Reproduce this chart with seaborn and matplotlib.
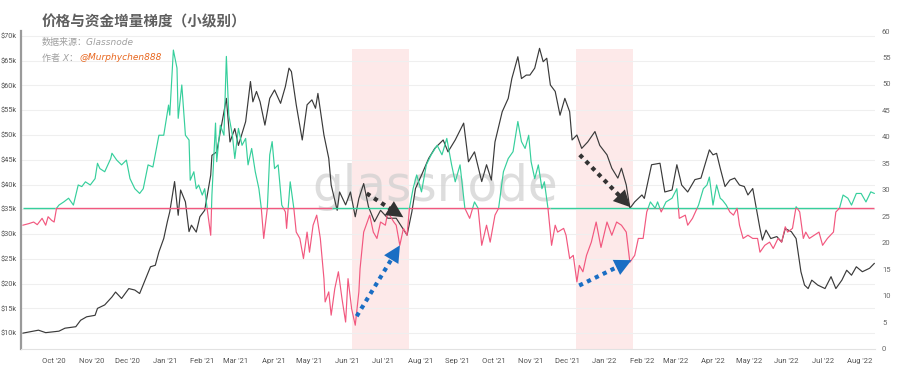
import numpy as np
import pandas as pd
import matplotlib
matplotlib.use("Agg")
import matplotlib.pyplot as plt
import matplotlib.dates as mdates
from matplotlib.patches import Rectangle
import seaborn as sns

# ---------------- data ----------------
start_date = "2020-09-05"

price_day = [0, 13, 19, 30, 35, 44, 48, 53, 60, 62, 68, 74, 77, 82, 88, 93, 97, 102, 106, 110,
             113, 117, 120, 122, 126, 129, 131, 135, 138, 140, 144, 147, 151, 156, 157, 161, 165,
             169, 172, 176, 179, 185, 189, 191, 194, 197, 201, 205, 209, 214, 218, 221, 223, 227,
             232, 236, 240, 243, 245, 250, 254, 256, 261, 263, 268, 272, 276, 279, 283, 287, 292,
             297, 303, 310, 319, 323, 326, 331, 337, 342, 349, 353, 359, 366, 370, 375, 381, 385,
             389, 392, 398, 403, 406, 411, 414, 418, 421, 425, 429, 432, 435, 438, 442, 446, 450,
             454, 456, 460, 464, 469, 475, 479, 485, 489, 494, 497, 501, 504, 508, 514, 516, 522,
             529, 533, 539, 543, 547, 552, 558, 563, 567, 570, 573, 576, 579, 583, 587, 591, 595,
             599, 602, 606, 609, 612, 614, 617, 621, 626, 630, 633, 638, 642, 646, 649, 652, 655,
             660, 666, 671, 675, 680, 684, 688, 692, 697, 703, 707]
price_k = [10.0, 10.6, 10.1, 10.4, 11.0, 11.3, 12.6, 13.3, 13.6, 15.0, 15.7, 17.3, 18.3, 17.0,
           19.0, 18.7, 18.0, 21.0, 23.4, 23.7, 26.4, 29.1, 32.5, 34.5, 40.6, 33.8, 38.9, 36.5,
           30.5, 31.8, 30.4, 33.5, 34.8, 41.9, 45.9, 46.6, 52.0, 57.4, 48.6, 51.3, 47.9, 52.7,
           60.8, 56.7, 58.8, 56.7, 52.0, 57.4, 59.1, 56.4, 59.8, 63.5, 62.8, 56.1, 49.0, 56.1,
           57.1, 55.4, 58.4, 50.0, 45.3, 39.9, 34.8, 38.5, 35.9, 38.5, 33.5, 37.2, 40.2, 35.5,
           32.5, 34.8, 33.2, 33.2, 29.8, 34.5, 39.2, 41.9, 45.3, 47.3, 49.0, 46.6, 49.0, 52.4,
           44.6, 46.6, 40.6, 44.0, 40.9, 48.6, 54.7, 57.4, 61.4, 65.8, 61.4, 62.1, 62.1, 63.5,
           67.5, 64.8, 65.5, 60.1, 58.8, 54.0, 57.4, 54.7, 49.0, 50.0, 47.3, 48.6, 50.7, 47.9,
           46.0, 43.3, 41.3, 43.3, 39.9, 35.2, 36.5, 37.9, 37.2, 44.0, 44.3, 38.5, 38.9, 44.0,
           39.9, 38.5, 41.0, 41.3, 44.6, 47.0, 46.0, 46.3, 43.3, 39.6, 40.9, 41.3, 39.9, 39.6,
           37.9, 39.2, 35.2, 31.1, 28.8, 30.8, 29.1, 29.5, 28.4, 31.1, 30.5, 29.1, 22.4, 19.7,
           19.0, 20.7, 19.7, 19.0, 21.4, 19.0, 20.7, 22.7, 21.7, 23.4, 22.4, 23.1, 24.1]

grad_day = [0, 5, 9, 12, 16, 19, 21, 24, 26, 28, 30, 34, 38, 42, 46, 49, 52, 56, 60, 62, 64, 68,
            73, 74, 78, 82, 86, 89, 93, 97, 100, 104, 108, 113, 117, 121, 122, 125, 128, 129, 132,
            135, 138, 139, 142, 144, 146, 149, 151, 153, 156, 157, 160, 161, 164, 167, 169, 171,
            174, 176, 179, 182, 185, 187, 190, 193, 196, 198, 200, 203, 205, 207, 209, 212, 215,
            218, 219, 222, 225, 227, 230, 233, 236, 238, 241, 244, 247, 250, 251, 254, 256, 259,
            262, 265, 268, 270, 273, 276, 279, 280, 283, 285, 288, 291, 294, 297, 301, 303, 308,
            310, 313, 316, 319, 321, 324, 327, 331, 335, 339, 344, 348, 352, 356, 359, 363, 367,
            371, 375, 378, 381, 385, 388, 392, 395, 399, 403, 407, 411, 414, 417, 420, 422, 425,
            428, 431, 433, 436, 439, 442, 444, 449, 451, 454, 457, 460, 462, 465, 468, 472, 476,
            480, 485, 489, 493, 497, 501, 504, 508, 511, 515, 518, 521, 525, 527, 530, 534, 539,
            543, 545, 550, 552, 556, 561, 565, 568, 570, 573, 576, 579, 581, 584, 587, 590, 593,
            595, 598, 602, 606, 610, 612, 616, 620, 623, 627, 630, 633, 635, 639, 642, 645, 648,
            650, 653, 657, 661, 664, 668, 673, 675, 678, 681, 685, 688, 692, 696, 700, 704, 707]
grad_val = [23.3, 23.6, 23.9, 23.4, 24.6, 23.3, 24.9, 24.2, 23.9, 26.5, 27.1, 27.7, 28.4, 27.1,
            30.9, 30.6, 31.5, 30.9, 32.1, 35.0, 34.0, 33.4, 35.9, 36.9, 35.6, 34.7, 35.6, 32.1,
            30.2, 29.3, 30.2, 34.7, 34.3, 40.3, 40.3, 46.0, 44.1, 56.4, 53.0, 43.5, 49.8, 40.3,
            39.4, 31.8, 33.4, 30.2, 30.9, 29.0, 30.2, 26.5, 21.4, 29.0, 42.6, 35.3, 42.2, 40.3,
            55.2, 44.1, 40.3, 35.9, 41.6, 38.4, 39.7, 34.7, 37.8, 33.4, 30.2, 26.5, 20.8, 26.5,
            36.6, 39.1, 34.0, 34.7, 27.1, 25.8, 22.7, 31.5, 26.5, 22.0, 20.8, 17.0, 22.0, 18.2,
            23.3, 25.2, 20.8, 13.2, 8.8, 10.7, 6.3, 11.3, 14.5, 9.4, 5.0, 13.2, 7.5, 4.4, 10.7,
            15.1, 22.0, 23.3, 25.2, 22.0, 20.8, 23.9, 23.3, 25.8, 23.9, 23.3, 19.5, 22.7, 21.4,
            26.5, 30.2, 32.8, 29.6, 34.7, 36.6, 38.4, 36.6, 39.7, 34.7, 31.5, 34.7, 26.5, 24.6,
            27.7, 26.5, 19.5, 23.3, 20.1, 25.2, 26.5, 33.4, 35.9, 37.2, 42.9, 39.1, 37.8, 40.3,
            35.3, 32.1, 34.7, 30.2, 31.5, 26.5, 19.5, 23.3, 22.0, 22.7, 21.4, 17.0, 17.6, 12.6,
            15.7, 14.5, 17.6, 20.1, 23.9, 19.1, 23.9, 21.4, 23.9, 23.3, 22.0, 16.3, 17.6, 20.8,
            20.8, 25.8, 27.7, 26.5, 27.7, 25.8, 27.7, 28.4, 30.2, 24.6, 25.2, 23.3, 24.6, 27.1,
            30.2, 30.9, 32.4, 27.1, 30.9, 28.4, 28.0, 27.1, 25.8, 25.2, 26.5, 23.3, 20.8, 21.4,
            20.8, 20.8, 18.2, 19.5, 20.1, 18.9, 20.8, 20.1, 23.0, 22.0, 22.7, 26.8, 25.8, 20.8,
            22.0, 20.8, 21.4, 22.0, 19.5, 20.8, 22.0, 25.8, 26.5, 29.0, 28.4, 27.1, 29.3, 29.3,
            27.7, 29.6, 29.3]

threshold = 26.5
hline_break_day = [0, 27, 257, 320, 438, 676, 707]
hline_colors = ["green", "pink", "green", "pink", "green", "pink"]

highlight_days = [(273, 321), (459, 507)]

# arrows on the right-axis scale
arrow_start_day = [285.5, 277.2, 462.4, 461.9]
arrow_start_val = [29.3, 6.1, 36.6, 11.9]
arrow_end_day = [315.9, 313.1, 504.5, 505.3]
arrow_end_val = [24.8, 19.5, 26.7, 16.7]
arrow_color = ["black", "blue", "black", "blue"]

left_ticks = [10, 15, 20, 25, 30, 35, 40, 45, 50, 55, 60, 65, 70]
right_ticks = [0, 5, 10, 15, 20, 25, 30, 35, 40, 45, 50, 55, 60]

title = "价格与资金增量梯度（小级别）"
source = "数据来源：Glassnode"
author = "作者 X："
handle = "@Murphychen888"

# ---------------- styling ----------------
GREEN = "#36cf9c"
PINK = "#f2587f"
BLACK = "#3a3a3a"
BLUE = "#1a6ec4"
colors = {"green": GREEN, "pink": PINK, "black": "#333333", "blue": BLUE}

sns.set_theme(style="white")
plt.rcParams["font.family"] = ["Roboto", "DejaVu Sans", "Noto Sans CJK SC"]
cjk = ["Noto Sans CJK SC", "DejaVu Sans"]
ital = ["DejaVu Sans", "Noto Sans CJK SC"]

t0 = pd.Timestamp(start_date)
price_df = pd.DataFrame({"date": t0 + pd.to_timedelta(price_day, unit="D"), "price": price_k})
grad_df = pd.DataFrame({"date": t0 + pd.to_timedelta(grad_day, unit="D"), "grad": grad_val})

def dnum(d):
    return mdates.date2num(t0 + pd.Timedelta(days=d))

fig = plt.figure(figsize=(9, 3.8), dpi=100)
ax = fig.add_axes([21 / 900, (380 - 348.5) / 380, (875 - 21) / 900, (348.5 - 31) / 380])
ax2 = ax.twinx()

xmin, xmax = dnum(-1.5), dnum(707.5)

# highlight spans
for a, b in highlight_days:
    ax.axvspan(dnum(a), dnum(b), ymin=0, ymax=0.944, color="#fde6e6", alpha=0.85, lw=0, zorder=0)

# price line
sns.lineplot(data=price_df, x="date", y="price", ax=ax, color=BLACK, lw=0.85, zorder=3)

# gradient line, split in colour at the threshold
sns.lineplot(data=grad_df, x="date", y="grad", ax=ax2, color=GREEN, lw=0.85, zorder=3)
line_up = ax2.lines[-1]
sns.lineplot(data=grad_df, x="date", y="grad", ax=ax2, color=PINK, lw=0.85, zorder=3)
line_dn = ax2.lines[-1]
clip_up = Rectangle((xmin, threshold), xmax - xmin, 100, transform=ax2.transData)
clip_dn = Rectangle((xmin, -100), xmax - xmin, 100 + threshold, transform=ax2.transData)
line_up.set_clip_path(clip_up)
line_dn.set_clip_path(clip_dn)

# threshold line segments
for i, c in enumerate(hline_colors):
    ax2.plot([dnum(hline_break_day[i]), dnum(hline_break_day[i + 1])], [threshold, threshold],
             color=colors[c], lw=1.0, zorder=2, solid_capstyle="butt")

# arrows: square-dotted shaft plus solid triangular head
for sd, sv, ed, ev, c in zip(arrow_start_day, arrow_start_val, arrow_end_day, arrow_end_val, arrow_color):
    col = colors[c]
    x0, x1 = dnum(sd), dnum(ed)
    mx = x0 + 0.8 * (x1 - x0)
    my = sv + 0.8 * (ev - sv)
    ax2.plot([x0, mx], [sv, my], color=col, lw=3.0, linestyle=(0, (1, 1.1)),
             dash_capstyle="butt", zorder=5)
    hx = x0 + 0.7 * (x1 - x0)
    hy = sv + 0.7 * (ev - sv)
    ax2.annotate("", xy=(x1, ev), xytext=(hx, hy),
                 arrowprops=dict(arrowstyle="-|>,head_length=0.8,head_width=0.4", color=col,
                                 lw=0.01, mutation_scale=15, shrinkA=0, shrinkB=0),
                 zorder=6)

# watermark
ax.text(0.485, 0.51, "glassnode", transform=ax.transAxes, fontsize=35, color="#cfcfcf",
        alpha=0.7, ha="center", va="center", zorder=1, family="DejaVu Sans")

# axes formatting
ax.set_xlim(xmin, xmax)
ax.set_ylim(6.9, 71.0)
ax2.set_ylim(0, 60)
ax.set_yticks(left_ticks)
ax.set_yticklabels([f"${t}k" for t in left_ticks])
ax2.set_yticks(right_ticks)
ax2.set_yticklabels([str(t) for t in right_ticks])
ax.xaxis.set_major_locator(mdates.MonthLocator())
ax.xaxis.set_major_formatter(mdates.DateFormatter("%b '%y"))
ax.set_xlabel("")
ax.set_ylabel("")
ax2.set_ylabel("")
ax.grid(axis="y", color="#efefef", lw=0.8)
ax.set_axisbelow(True)
ax.tick_params(axis="y", labelsize=5.3, labelcolor="#555555", length=0, pad=3)
ax.tick_params(axis="x", labelsize=5.5, labelcolor="#555555", length=0, pad=7)
ax2.tick_params(axis="y", labelsize=5.5, labelcolor="#666666", length=0, pad=5)
for a in (ax, ax2):
    for s in ("top", "right"):
        a.spines[s].set_visible(False)
ax2.spines["left"].set_visible(False)
ax2.spines["bottom"].set_visible(False)
ax.spines["left"].set_color("#9a9a9a")
ax.spines["left"].set_linewidth(1.6)
ax.spines["bottom"].set_color("#e2e2e2")
ax.spines["bottom"].set_linewidth(0.8)

# texts
fig.text(42 / 900, 1 - 21 / 380, title, family=cjk, fontsize=10.5, fontweight="bold",
         color="#5f5f5f", ha="left", va="center")
fig.text(42 / 900, 1 - 42 / 380, source, family=ital, fontsize=6.5, style="italic",
         color="#a0a0a0", ha="left", va="center")
fig.text(42 / 900, 1 - 58 / 380, author, family=ital, fontsize=6.5, style="italic",
         color="#a0a0a0", ha="left", va="center")
fig.text(79 / 900, 1 - 58 / 380, handle, family=ital, fontsize=6.5, style="italic",
         color="#e8661e", ha="left", va="center")

fig.savefig("out.png", dpi=100)
